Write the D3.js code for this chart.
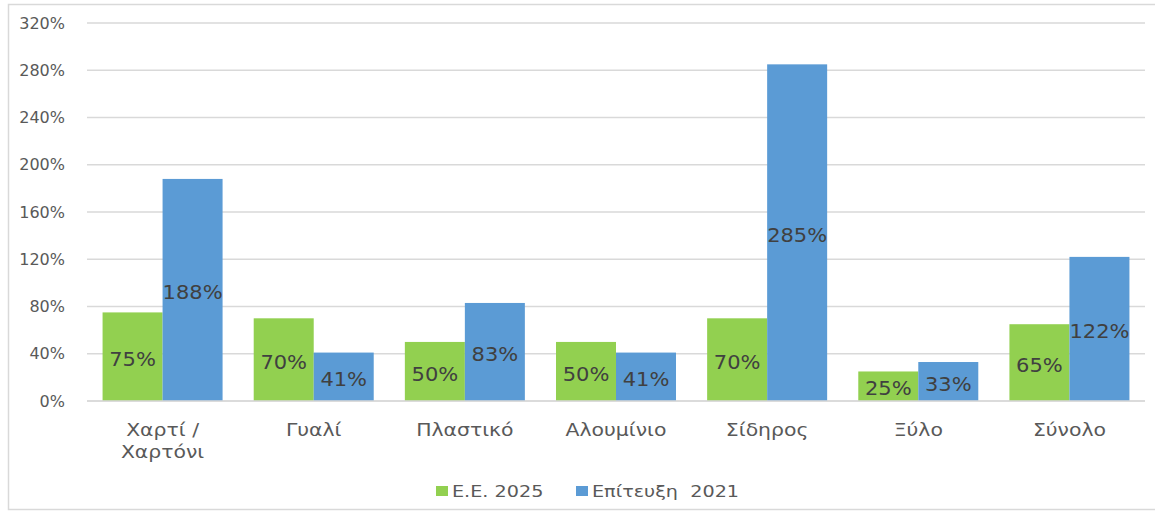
<!DOCTYPE html>
<html>
<head>
<meta charset="utf-8">
<script src="https://cdn.jsdelivr.net/npm/d3@7"></script>
<style>
  body { margin: 0; background: #fff; }
  text { font-family: "DejaVu Sans", sans-serif; }
</style>
</head>
<body>
<svg id="chart" width="1155" height="512"></svg>
<script>
const categories = ["Χαρτί / Χαρτόνι", "Γυαλί", "Πλαστικό", "Αλουμίνιο", "Σίδηρος", "Ξύλο", "Σύνολο"];
const series = ["Ε.Ε. 2025", "Επίτευξη  2021"];
const target2025 = [0.75, 0.70, 0.50, 0.50, 0.70, 0.25, 0.65];
const achieved2021 = [1.88, 0.41, 0.83, 0.41, 2.85, 0.33, 1.22];
const yTicks = [0, 0.4, 0.8, 1.2, 1.6, 2.0, 2.4, 2.8, 3.2];
const colors = ["#92d050", "#5b9bd5"];

const svg = d3.select("#chart");
const margin = { top: 23, left: 87 };
const plotRight = 1145;
const plotBottom = 401;
const stretch = 1.2; // the source text is drawn wide

// frame of the chart area
svg.append("rect")
  .attr("x", 8.5).attr("y", 4.5)
  .attr("width", 1160).attr("height", 505)
  .attr("fill", "none")
  .attr("stroke", "#d9d9d9")
  .attr("stroke-width", 1.5);

const x0 = d3.scaleBand()
  .domain(categories)
  .range([margin.left, plotRight])
  .paddingInner(0.206)
  .paddingOuter(0.103);

const x1 = d3.scaleBand()
  .domain(series)
  .range([0, x0.bandwidth()]);

const y = d3.scaleLinear()
  .domain([0, 3.2])
  .range([plotBottom, margin.top]);

const color = d3.scaleOrdinal().domain(series).range(colors);
const pct = d3.format(".0%");

// gridlines
svg.append("g")
  .selectAll("line")
  .data(yTicks)
  .join("line")
  .attr("x1", margin.left)
  .attr("x2", plotRight)
  .attr("y1", d => y(d))
  .attr("y2", d => y(d))
  .attr("stroke", "#d9d9d9")
  .attr("stroke-width", 1.5);

// y axis labels
const yAxis = d3.axisLeft(y).tickValues(yTicks).tickFormat(pct).tickSize(0).tickPadding(22);
const yg = svg.append("g")
  .attr("transform", `translate(${margin.left},0)`)
  .call(yAxis);
yg.select(".domain").remove();
yg.selectAll("text")
  .attr("fill", "#595959")
  .style("font-size", "16px")
  .style("font-family", "DejaVu Sans, sans-serif");

const rows = categories.map((c, i) => ({
  category: c,
  values: [
    { key: series[0], value: target2025[i] },
    { key: series[1], value: achieved2021[i] }
  ]
}));

const groups = svg.append("g")
  .selectAll("g")
  .data(rows)
  .join("g")
  .attr("transform", d => `translate(${x0(d.category)},0)`);

groups.selectAll("rect")
  .data(d => d.values)
  .join("rect")
  .attr("x", d => x1(d.key))
  .attr("y", d => y(d.value))
  .attr("width", x1.bandwidth())
  .attr("height", d => y(0) - y(d.value))
  .attr("fill", d => color(d.key));

groups.selectAll("text.label")
  .data(d => d.values)
  .join("text")
  .attr("class", "label")
  .attr("transform", d => `translate(${x1(d.key) + x1.bandwidth() / 2},${(y(d.value) + y(0)) / 2 + 2}) scale(1.05,1)`)
  .attr("dy", "0.36em")
  .attr("text-anchor", "middle")
  .attr("fill", "#404040")
  .style("font-size", "20px")
  .text(d => pct(d.value));

// baseline
svg.append("line")
  .attr("x1", margin.left).attr("x2", plotRight)
  .attr("y1", y(0)).attr("y2", y(0))
  .attr("stroke", "#d9d9d9")
  .attr("stroke-width", 1.5);

// category labels
const cat = svg.append("g")
  .selectAll("text")
  .data(categories)
  .join("text")
  .attr("transform", d => `translate(${x0(d) + x0.bandwidth() / 2},436) scale(${stretch},1)`)
  .attr("text-anchor", "middle")
  .attr("fill", "#595959")
  .style("font-size", "17px");
cat.each(function(d) {
  const parts = d.includes(" / ") ? [d.split(" / ")[0] + " /", d.split(" / ")[1]] : [d];
  d3.select(this).selectAll("tspan")
    .data(parts)
    .join("tspan")
    .attr("x", 0)
    .attr("dy", (p, i) => i === 0 ? 0 : 22)
    .text(p => p);
});

// legend
const legendX = [436, 576];
const legend = svg.append("g")
  .selectAll("g")
  .data(series)
  .join("g")
  .attr("transform", (d, i) => `translate(${legendX[i]},486)`);
legend.append("rect")
  .attr("width", 12).attr("height", 10)
  .attr("fill", d => color(d));
legend.append("text")
  .attr("transform", `translate(16,5) scale(${stretch},1)`)
  .attr("dy", "0.36em")
  .attr("fill", "#595959")
  .style("font-size", "16px")
  .style("white-space", "pre")
  .text(d => d);
</script>
</body>
</html>
